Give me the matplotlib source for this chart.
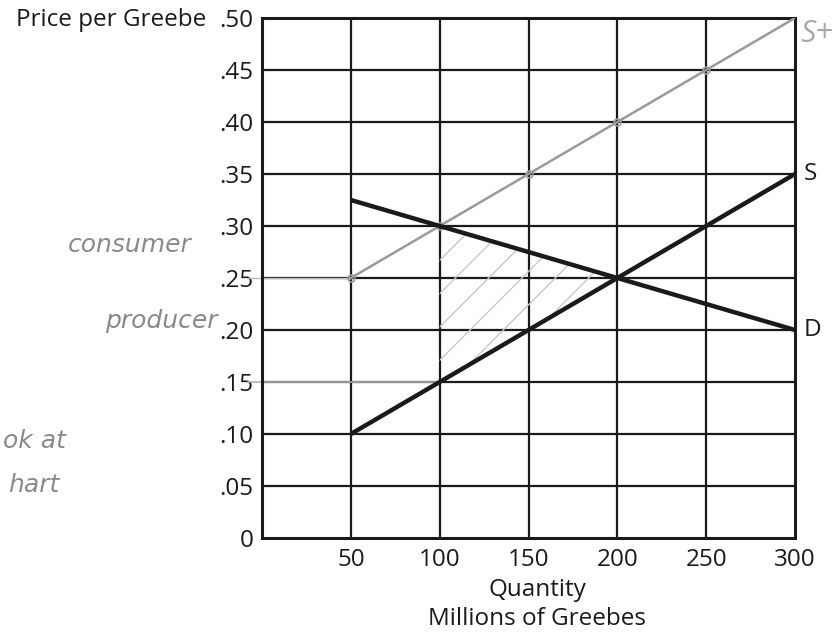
import matplotlib
matplotlib.use("Agg")
import matplotlib.pyplot as plt
import numpy as np

# ---- data ----
qty_ticks = [50, 100, 150, 200, 250, 300]
qty_tick_labels = ["50", "100", "150", "200", "250", "300"]
price_ticks = [0, 0.05, 0.10, 0.15, 0.20, 0.25, 0.30, 0.35, 0.40, 0.45, 0.50]
price_tick_labels = ["0", ".05", ".10", ".15", ".20", ".25", ".30", ".35", ".40", ".45", ".50"]

supply_q = [50, 300]
supply_p = [0.10, 0.35]
demand_q = [50, 300]
demand_p = [0.325, 0.20]
taxed_q = [50, 100, 150, 200, 250, 300]
taxed_p = [0.25, 0.30, 0.35, 0.40, 0.45, 0.50]

FONT = "Open Sans"
plt.rcParams['font.family'] = [FONT, 'DejaVu Sans']

fig = plt.figure(figsize=(8.37, 6.37), dpi=100)
ax = fig.add_axes([262/837, 1 - 538/637, (795-262)/837, (538-18)/637])
ax.set_xlim(0, 300)
ax.set_ylim(0, 0.50)

ink = "#1a1a1a"
pencil = "#9a9a9a"
FS = 17.5

# grid
for q in qty_ticks[:-1]:
    ax.axvline(q, color=ink, lw=1.6, zorder=1)
for p in price_ticks[1:-1]:
    ax.axhline(p, color=ink, lw=1.6, zorder=1)
for s in ax.spines.values():
    s.set_linewidth(2.2)
    s.set_color(ink)

# pencil hatching between demand and supply, 100..200
hq = np.linspace(100, 200, 50)
d_at = np.interp(hq, demand_q, demand_p)
s_at = np.interp(hq, supply_q, supply_p)
plt.rcParams['hatch.color'] = "#c8c8c8"
plt.rcParams['hatch.linewidth'] = 1.0
ax.fill_between(hq, s_at, d_at, facecolor="none", hatch="/", edgecolor="#c8c8c8",
                linewidth=0, zorder=1.5)

# pencil guide lines
ax.plot([-8, 100], [0.15, 0.15], color="#b0b0b0", lw=1.2, clip_on=False, zorder=2)
ax.plot([-8, 50], [0.25, 0.25], color="#bcbcbc", lw=1.0, clip_on=False, zorder=2)

# taxed supply (pencil)
ax.plot(taxed_q, taxed_p, color=pencil, lw=1.8, zorder=3)
ax.plot(taxed_q[:-1], taxed_p[:-1], 'o', ms=5, mfc="none", mec=pencil, mew=1.2, zorder=3)

# supply & demand
ax.plot(supply_q, supply_p, color=ink, lw=3.2, solid_capstyle="butt", zorder=4)
ax.plot(demand_q, demand_p, color=ink, lw=3.2, solid_capstyle="butt", zorder=4)

ax.set_xticks(qty_ticks)
ax.set_xticklabels(qty_tick_labels)
ax.set_yticks(price_ticks)
ax.set_yticklabels(price_tick_labels)
ax.tick_params(length=0, labelsize=FS, colors=ink)
ax.tick_params(axis='y', pad=6)
ax.tick_params(axis='x', pad=7)

# line labels
ax.text(305, supply_p[-1], "S", fontsize=FS, ha="left", va="center", color=ink)
ax.text(305, demand_p[-1], "D", fontsize=FS, ha="left", va="center", color=ink)

# axis titles
fig.text(206/837, 1 - 20/637, "Price per Greebe", fontsize=FS, ha="right", va="center", color=ink)
fig.text(537/837, 1 - 590/637, "Quantity", fontsize=FS, ha="center", va="center", color=ink)
fig.text(537/837, 1 - 619/637, "Millions of Greebes", fontsize=FS, ha="center", va="center", color=ink)

# handwritten pencil notes
hw = dict(color="#8a8a8a", fontsize=18, fontstyle="italic", family=["DejaVu Sans"], fontweight="light")
fig.text(68/837, 1 - 252/637, "consumer", **hw)
fig.text(105/837, 1 - 328/637, "producer", **hw)
fig.text(3/837, 1 - 448/637, "ok at", **hw)
fig.text(8/837, 1 - 492/637, "hart", **hw)
fig.text(800/837, 1 - 42/637, "S+", color="#a8a8a8", fontsize=22, fontstyle="italic")

fig.savefig("out.png", dpi=100)
